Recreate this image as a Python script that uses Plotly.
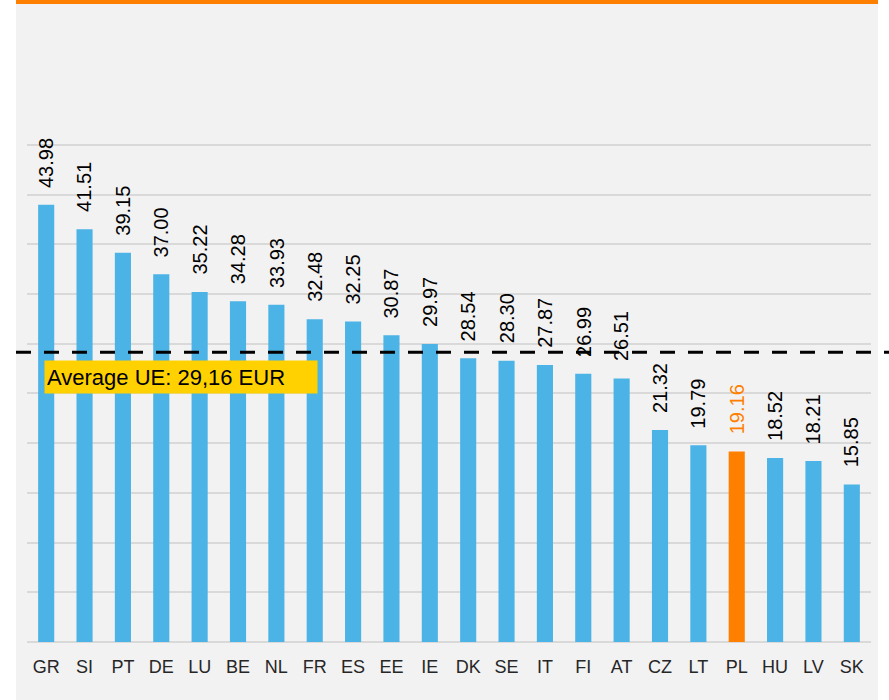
import plotly.graph_objects as go

countries = ["GR", "SI", "PT", "DE", "LU", "BE", "NL", "FR", "ES", "EE", "IE",
             "DK", "SE", "IT", "FI", "AT", "CZ", "LT", "PL", "HU", "LV", "SK"]
values = [43.98, 41.51, 39.15, 37.00, 35.22, 34.28, 33.93, 32.48, 32.25, 30.87, 29.97,
          28.54, 28.30, 27.87, 26.99, 26.51, 21.32, 19.79, 19.16, 18.52, 18.21, 15.85]
average_value = 29.16
average_label = "Average UE: 29,16 EUR"
highlight = "PL"

BLUE = "#4BB3E6"
ORANGE = "#FF7F00"
Y_MAX = 50.4

W, H = 889, 700
L, R, B = 27, 18, 58
T = 141
pw, ph = W - L - R, H - T - B

def px_x(p):
    return (p - L) / pw

def px_y(p):
    return (H - B - p) / ph

bar_colors = [ORANGE if c == highlight else BLUE for c in countries]

fig = go.Figure()
fig.add_trace(go.Bar(
    x=countries, y=values, marker=dict(color=bar_colors, line=dict(width=0)),
    hoverinfo="x+y", showlegend=False,
))

annotations = []
for c, v in zip(countries, values):
    annotations.append(dict(
        x=c, y=v, xref="x", yref="y", text=f"{v:.2f}", showarrow=False,
        textangle=-90, yanchor="bottom", xanchor="center", yshift=15,
        font=dict(family="Arial, Liberation Sans, sans-serif", size=20,
                  color=ORANGE if c == highlight else "#000000"),
    ))

annotations.append(dict(
    x=px_x(44), y=average_value / Y_MAX, xref="paper", yref="paper",
    xanchor="left", yanchor="top", yshift=-8,
    text=average_label, showarrow=False, align="left",
    bgcolor="#FFD100", borderpad=2, width=268, height=28,
    font=dict(family="Arial, Liberation Sans, sans-serif", size=22, color="#000000"),
))

shapes = [
    dict(type="rect", xref="paper", yref="paper", x0=px_x(16), x1=px_x(878),
         y0=px_y(700), y1=px_y(0), fillcolor="#F2F2F2", line=dict(width=0), layer="below"),
    dict(type="rect", xref="paper", yref="paper", x0=px_x(16), x1=px_x(878),
         y0=px_y(4), y1=px_y(0), fillcolor=ORANGE, line=dict(width=0), layer="below"),
    dict(type="line", xref="paper", yref="paper", x0=px_x(16), x1=px_x(889),
         y0=average_value / Y_MAX, y1=average_value / Y_MAX,
         line=dict(color="#000000", width=3, dash="15px,13px"), layer="above"),
]

fig.update_layout(
    width=W, height=H,
    margin=dict(l=L, r=R, t=T, b=B, pad=0),
    paper_bgcolor="#FFFFFF", plot_bgcolor="rgba(0,0,0,0)",
    bargap=0.58,
    shapes=shapes, annotations=annotations,
    font=dict(family="Arial, Liberation Sans, sans-serif"),
    xaxis=dict(showgrid=False, showline=False, zeroline=False, ticks="",
               tickfont=dict(size=18, color="#262626"), ticklabelstandoff=12),
    yaxis=dict(range=[0, Y_MAX], dtick=5, showgrid=True, gridcolor="#D9D9D9",
               gridwidth=2, zeroline=True, zerolinecolor="#D9D9D9", zerolinewidth=2,
               showticklabels=False, ticks="", showline=False),
)

fig.write_html("out.html", config={"displayModeBar": False},
               post_script="document.body.style.margin='0';")
